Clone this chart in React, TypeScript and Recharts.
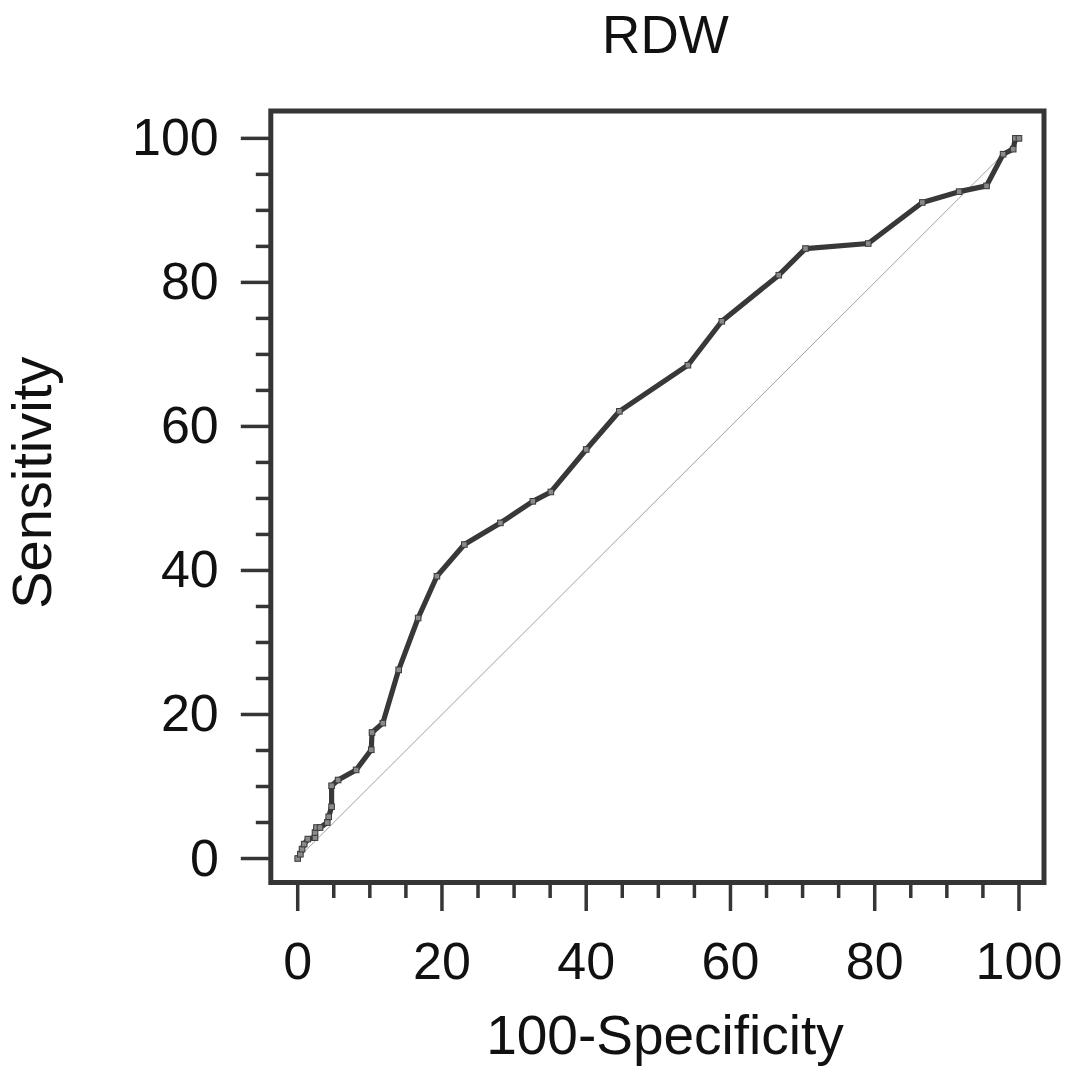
import React from 'react';
import { LineChart, Line, XAxis, YAxis, ReferenceArea, Label } from 'recharts';

const fpr = [0, 0.37, 0.6, 0.9, 1.4, 2.4, 2.4, 2.6, 3.1, 4.1, 4.3, 4.7, 4.7, 5.6, 8.1, 10.2, 10.3, 11.8, 14.0, 16.7, 19.3, 23.1, 28.1, 32.6, 35.1, 40.0, 44.6, 54.1, 58.8, 66.7, 70.4, 79.1, 86.6, 91.7, 95.5, 97.8, 99.2, 99.5, 100];
const tpr = [0, 0.6, 1.3, 2.0, 2.7, 2.9, 3.6, 4.3, 4.3, 5.0, 5.8, 7.2, 10.1, 10.9, 12.3, 15.1, 17.5, 18.8, 26.2, 33.4, 39.2, 43.6, 46.6, 49.6, 50.9, 56.8, 62.1, 68.5, 74.6, 81.0, 84.7, 85.4, 91.1, 92.6, 93.4, 97.8, 98.5, 100, 100];
const diagX = [0, 100];
const diagY = [0, 100];
const xTicks = [0, 5, 10, 15, 20, 25, 30, 35, 40, 45, 50, 55, 60, 65, 70, 75, 80, 85, 90, 95, 100];
const yTicks = [0, 5, 10, 15, 20, 25, 30, 35, 40, 45, 50, 55, 60, 65, 70, 75, 80, 85, 90, 95, 100];
const title = 'RDW';
const xLabel = '100-Specificity';
const yLabel = 'Sensitivity';

const X_DOMAIN: [number, number] = [-3.73, 103.47];
const Y_DOMAIN: [number, number] = [-3.33, 103.8];

const FONT = '"Liberation Sans", Arial, sans-serif';
const INK = '#353535';

const rocData = fpr.map((x, i) => ({ x, y: tpr[i] }));
const diagData = diagX.map((x, i) => ({ x, y: diagY[i] }));

const XTick = (props: any) => {
  const { x, y, payload } = props;
  const v = payload.value;
  const major = v % 20 === 0;
  return (
    <g>
      <line x1={x} y1={y} x2={x} y2={y + (major ? 28.5 : 15.5)} stroke={INK} strokeWidth={3.5} />
      {major && (
        <text x={x} y={y + 96} textAnchor="middle" fontSize={52} fill="#111" fontFamily={FONT}>
          {v}
        </text>
      )}
    </g>
  );
};

const YTick = (props: any) => {
  const { x, y, payload } = props;
  const v = payload.value;
  const major = v % 20 === 0;
  return (
    <g>
      <line x1={x} y1={y} x2={x - (major ? 30 : 15)} y2={y} stroke={INK} strokeWidth={3.5} />
      {major && (
        <text x={x - 52} y={y + 17} textAnchor="end" fontSize={52} fill="#111" fontFamily={FONT}>
          {v}
        </text>
      )}
    </g>
  );
};

const Dot = (props: any) => {
  const { cx, cy } = props;
  if (cx == null || cy == null) return null;
  return <rect x={cx - 2.8} y={cy - 2.8} width={5.6} height={5.6} fill="#8a8a8a" stroke="#3a3a3a" strokeWidth={1} />;
};

const XLabelContent = (props: any) => {
  const vb = props.viewBox || {};
  return (
    <text x={vb.x + vb.width / 2 + 7.6} y={vb.y + 171.5} textAnchor="middle" fontSize={55} fill="#111" fontFamily={FONT}>
      {xLabel}
    </text>
  );
};

const YLabelContent = (props: any) => {
  const vb = props.viewBox || {};
  const cx = 51;
  const cy = vb.y + vb.height / 2 - 14;
  return (
    <text x={cx} y={cy} transform={`rotate(-90 ${cx} ${cy})`} textAnchor="middle" fontSize={56} fill="#111" fontFamily={FONT}>
      {yLabel}
    </text>
  );
};

const TitleContent = (props: any) => {
  const vb = props.viewBox || {};
  return (
    <text x={vb.x + vb.width / 2 + 8} y={vb.y - 58.3} textAnchor="middle" fontSize={53} fill="#111" fontFamily={FONT}>
      {title}
    </text>
  );
};

export default function App() {
  return (
    <div style={{ position: 'absolute', left: 0, top: 0, width: 1067, height: 1069, background: '#fff' }}>
      <LineChart
        width={1067}
        height={1069}
        margin={{ top: 111, right: 23, left: 70.8, bottom: 86.5 }}
        style={{ overflow: 'visible' }}
      >
        <XAxis
          type="number"
          dataKey="x"
          domain={X_DOMAIN}
          allowDataOverflow
          ticks={xTicks}
          interval={0}
          tick={<XTick />}
          tickLine={false}
          axisLine={false}
          tickSize={0}
          tickMargin={0}
          height={100}
        >
          <Label content={<XLabelContent />} />
        </XAxis>
        <YAxis
          type="number"
          dataKey="y"
          domain={Y_DOMAIN}
          allowDataOverflow
          ticks={yTicks}
          interval={0}
          tick={<YTick />}
          tickLine={false}
          axisLine={false}
          tickSize={0}
          tickMargin={0}
          width={200}
        >
          <Label content={<YLabelContent />} />
        </YAxis>
        <ReferenceArea
          x1={X_DOMAIN[0]}
          x2={X_DOMAIN[1]}
          y1={Y_DOMAIN[0]}
          y2={Y_DOMAIN[1]}
          fill="none"
          fillOpacity={0}
          stroke={INK}
          strokeWidth={5}
          ifOverflow="visible"
        >
          <Label content={<TitleContent />} />
        </ReferenceArea>
        <Line
          data={diagData}
          dataKey="y"
          type="linear"
          stroke="#a0a0a0"
          strokeWidth={1}
          dot={false}
          activeDot={false}
          isAnimationActive={false}
        />
        <Line
          data={rocData}
          dataKey="y"
          type="linear"
          stroke="#383838"
          strokeWidth={5.2}
          strokeLinejoin="round"
          dot={<Dot />}
          activeDot={false}
          isAnimationActive={false}
        />
      </LineChart>
    </div>
  );
}
